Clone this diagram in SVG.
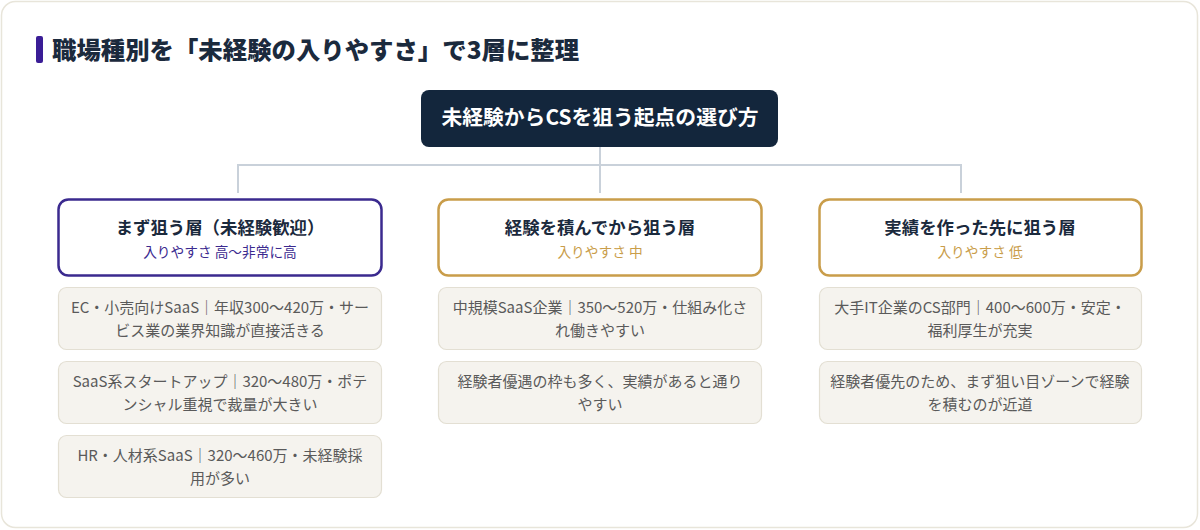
<svg xmlns="http://www.w3.org/2000/svg" width="1200" height="530" viewBox="0 0 1200 530">
<style>
text{font-family:"Noto Sans CJK JP","Noto Sans",sans-serif;}
.title{font-size:24.4px;font-weight:900;fill:#1b2a3d;}
.root-t{font-size:20.8px;font-weight:700;fill:#ffffff;}
.tier{fill:#ffffff;stroke-width:2.5;}
.tier-p{stroke:#3b2a8f;}
.tier-g{stroke:#c99d4a;}
.tier-t{font-size:17.4px;font-weight:700;fill:#1b2a3d;}
.sub-p{font-size:13.7px;fill:#3b2a8f;}
.sub-g{font-size:13.7px;fill:#c99d4a;}
.item{fill:#f5f3ee;stroke:#e3dfd3;stroke-width:1.2;}
.item-t{font-size:15px;fill:#5a5a5a;}
.conn{stroke:#c9d1da;stroke-width:2;fill:none;}
</style>
<rect x="1.5" y="1.5" width="1196" height="526" rx="14" fill="#ffffff" stroke="#e8e5da" stroke-width="1.5"/>
<g id="title">
<rect x="36" y="36" width="7" height="27" rx="2" fill="#3a1d96"/>
<text class="title" x="52" y="59">職場種別を「未経験の入りやすさ」で3層に整理</text>
</g>
<g id="connectors">
<path class="conn" d="M600 147 V165 M238 193 V165 H961 V193 M600 165 V193"/>
</g>
<g id="root">
<rect x="421" y="90" width="357" height="57" rx="8" fill="#13263c"/>
<text class="root-t" x="600" y="125" text-anchor="middle">未経験からCSを狙う起点の選び方</text>
</g>
<g id="tier1">
<rect class="tier tier-p" x="58.5" y="199.5" width="323" height="76" rx="10"/>
<text class="tier-t" x="220" y="234" text-anchor="middle">まず狙う層（未経験歓迎）</text>
<text class="sub-p" x="220" y="257" text-anchor="middle">入りやすさ 高〜非常に高</text>
</g>
<g id="tier2">
<rect class="tier tier-g" x="438.5" y="199.5" width="323" height="76" rx="10"/>
<text class="tier-t" x="600" y="234" text-anchor="middle">経験を積んでから狙う層</text>
<text class="sub-g" x="600" y="257" text-anchor="middle">入りやすさ 中</text>
</g>
<g id="tier3">
<rect class="tier tier-g" x="819.5" y="199.5" width="322" height="76" rx="10"/>
<text class="tier-t" x="980" y="234" text-anchor="middle">実績を作った先に狙う層</text>
<text class="sub-g" x="980" y="257" text-anchor="middle">入りやすさ 低</text>
</g>
<g id="item1-1">
<rect class="item" x="58.5" y="287.5" width="323" height="62" rx="8"/>
<text class="item-t" x="220" y="313" text-anchor="middle">EC・小売向けSaaS｜年収300〜420万・サー</text>
<text class="item-t" x="220" y="336" text-anchor="middle">ビス業の業界知識が直接活きる</text>
</g>
<g id="item1-2">
<rect class="item" x="58.5" y="361.5" width="323" height="62" rx="8"/>
<text class="item-t" x="220" y="387" text-anchor="middle">SaaS系スタートアップ｜320〜480万・ポテ</text>
<text class="item-t" x="220" y="410" text-anchor="middle">ンシャル重視で裁量が大きい</text>
</g>
<g id="item1-3">
<rect class="item" x="58.5" y="435.5" width="323" height="62" rx="8"/>
<text class="item-t" x="220" y="461" text-anchor="middle">HR・人材系SaaS｜320〜460万・未経験採</text>
<text class="item-t" x="220" y="484" text-anchor="middle">用が多い</text>
</g>
<g id="item2-1">
<rect class="item" x="438.5" y="287.5" width="323" height="62" rx="8"/>
<text class="item-t" x="600" y="313" text-anchor="middle">中規模SaaS企業｜350〜520万・仕組み化さ</text>
<text class="item-t" x="600" y="336" text-anchor="middle">れ働きやすい</text>
</g>
<g id="item2-2">
<rect class="item" x="438.5" y="361.5" width="323" height="62" rx="8"/>
<text class="item-t" x="600" y="387" text-anchor="middle">経験者優遇の枠も多く、実績があると通り</text>
<text class="item-t" x="600" y="410" text-anchor="middle">やすい</text>
</g>
<g id="item3-1">
<rect class="item" x="819.5" y="287.5" width="322" height="62" rx="8"/>
<text class="item-t" x="980" y="313" text-anchor="middle">大手IT企業のCS部門｜400〜600万・安定・</text>
<text class="item-t" x="980" y="336" text-anchor="middle">福利厚生が充実</text>
</g>
<g id="item3-2">
<rect class="item" x="819.5" y="361.5" width="322" height="62" rx="8"/>
<text class="item-t" x="980" y="387" text-anchor="middle">経験者優先のため、まず狙い目ゾーンで経験</text>
<text class="item-t" x="980" y="410" text-anchor="middle">を積むのが近道</text>
</g>
</svg>
